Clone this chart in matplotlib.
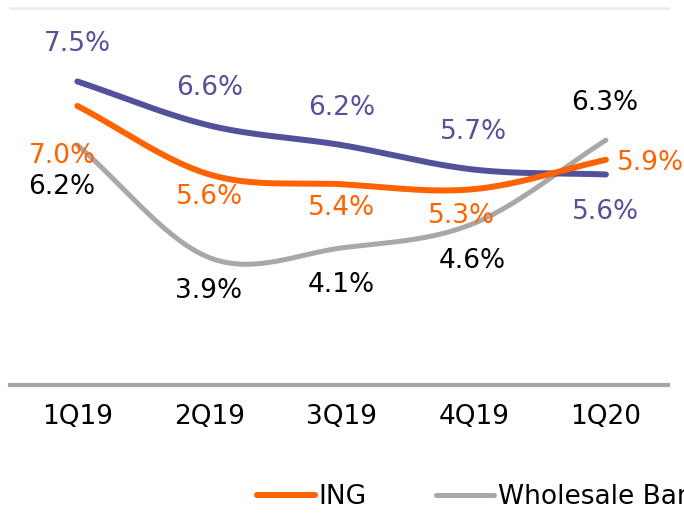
import numpy as np
import matplotlib.pyplot as plt

quarters = ["1Q19", "2Q19", "3Q19", "4Q19", "1Q20"]
ing = [7.0, 5.6, 5.4, 5.3, 5.9]
wholesale = [6.2, 3.9, 4.1, 4.6, 6.3]
peers = [7.5, 6.6, 6.2, 5.7, 5.6]

PURPLE = "#525199"
ORANGE = "#FF6200"
GREY = "#A8A8A8"

plt.rcParams["font.family"] = ["DejaVu Sans"]


def smooth(x, y, n=40):
    # catmull-rom curve through the points, like excel smoothed lines
    x = np.asarray(x, float)
    y = np.asarray(y, float)
    px = np.concatenate([[2 * x[0] - x[1]], x, [2 * x[-1] - x[-2]]])
    py = np.concatenate([[2 * y[0] - y[1]], y, [2 * y[-1] - y[-2]]])
    t = np.linspace(0, 1, n)
    xs, ys = [], []
    for i in range(1, len(px) - 2):
        for p, out in ((px, xs), (py, ys)):
            p0, p1, p2, p3 = p[i - 1], p[i], p[i + 1], p[i + 2]
            out.append(0.5 * (2 * p1 + (-p0 + p2) * t
                              + (2 * p0 - 5 * p1 + 4 * p2 - p3) * t ** 2
                              + (-p0 + 3 * p1 - 3 * p2 + p3) * t ** 3))
    return np.concatenate(xs), np.concatenate(ys)


fig = plt.figure(figsize=(6.84, 5.16), dpi=100)
ax = fig.add_axes([10 / 684, 1 - 385 / 516, 658 / 684, 377 / 516])

x = np.arange(len(quarters))
for vals, col, lw, lab in ((wholesale, GREY, 3.6, "Wholesale Banking"),
                           (peers, PURPLE, 4.3, None),
                           (ing, ORANGE, 4.3, "ING")):
    sx, sy = smooth(x, vals)
    ax.plot(sx, sy, color=col, lw=lw, solid_capstyle="round", label=lab)

fs = 19
# label offsets in points (dx, dy)
peer_off = [(0, 27), (0, 27), (0, 27), (0, 27), (0, -27)]
ing_off = [(-11, -36), (0, -16), (0, -17), (-9, -19), (32, -2)]
wb_off = [(-11, -30), (-1, -24), (0, -27), (-1, -27), (-1, 27)]
for vals, offs, col in ((peers, peer_off, PURPLE), (ing, ing_off, ORANGE),
                        (wholesale, wb_off, "black")):
    for xi, v, (dx, dy) in zip(x, vals, offs):
        ax.annotate(f"{v:.1f}%", (xi, v), xytext=(dx, dy), textcoords="offset points",
                    ha="center", va="center", fontsize=fs, color=col)

ax.set_xlim(-0.51, 4.47)
ax.set_ylim(1.3, 9.0)
ax.set_xticks(x)
ax.set_xticklabels(quarters, fontsize=fs)
ax.tick_params(axis="x", length=0, pad=14)
ax.set_yticks([])
for s in ("left", "right"):
    ax.spines[s].set_visible(False)
ax.spines["bottom"].set_color("#A6A6A6")
ax.spines["bottom"].set_linewidth(3)
ax.spines["top"].set_color("#EBEBEB")
ax.spines["top"].set_linewidth(1.8)

handles, labels = ax.get_legend_handles_labels()
leg = fig.legend(handles[::-1], labels[::-1], loc="center left",
                 bbox_to_anchor=(233 / 684, 1 - 497 / 516), ncol=2, frameon=False,
                 fontsize=fs, handlelength=2.2, handletextpad=0.15, columnspacing=2.6)

fig.savefig("out.png", dpi=100)
